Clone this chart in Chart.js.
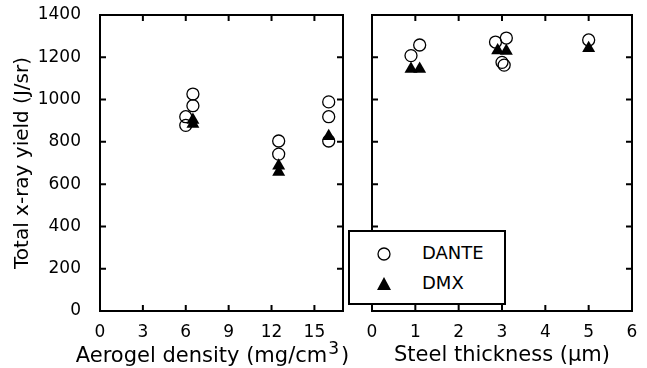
<!DOCTYPE html>
<html>
<head>
<meta charset="utf-8">
<script src="https://cdn.jsdelivr.net/npm/chart.js@4/dist/chart.umd.min.js"></script>
<style>
    body { margin: 0; background: #fff; }
    #wrap { position: relative; width: 647px; height: 368px; font-family: "DejaVu Sans", sans-serif; }
    canvas { position: absolute; top: 0; }
    #esquerra { left: 0; }
    #dreta { left: 360px; }
    #llegenda {
        position: absolute; left: 348px; top: 230px; width: 154px; height: 71px;
        border: 2px solid #000; background: #fff; font-size: 18px; color: #000;
    }
    .fila { position: absolute; left: 0; height: 24px; line-height: 24px; }
    .fila svg { position: absolute; left: 26px; top: 5px; }
    .fila span { position: absolute; left: 72px; white-space: nowrap; }
</style>
</head>
<body>
<div id="wrap">
    <canvas id="esquerra" width="360" height="368"></canvas>
    <canvas id="dreta" width="287" height="368"></canvas>
    <div id="llegenda">
        <div class="fila" style="top: 9px;">
            <svg width="16" height="16"><circle cx="8" cy="8" r="6" fill="none" stroke="#000" stroke-width="1.3"/></svg>
            <span>DANTE</span>
        </div>
        <div class="fila" style="top: 39px;">
            <svg width="16" height="16"><polygon points="8,1 15,14 1,14" fill="#000"/></svg>
            <span>DMX</span>
        </div>
    </div>
</div>
<script>
    // densitat de l'aerogel (mg/cm3)
    let densDante = [6.0, 6.0, 6.5, 6.5, 12.5, 12.5, 16.0, 16.0, 16.0];
    let yieldDanteDens = [878, 919, 971, 1026, 742, 804, 804, 919, 989];
    let densDmx = [6.5, 6.5, 12.5, 12.5, 16.0];
    let yieldDmxDens = [884, 903, 658, 687, 826];

    // gruix de l'acer (um)
    let gruixDante = [0.9, 1.1, 2.85, 3.1, 3.0, 3.05, 5.0];
    let yieldDanteGruix = [1208, 1258, 1272, 1291, 1176, 1163, 1282];
    let gruixDmx = [0.9, 1.1, 2.9, 3.1, 5.0];
    let yieldDmxGruix = [1145, 1145, 1232, 1230, 1243];

    let yTicks = [0, 200, 400, 600, 800, 1000, 1200, 1400];
    let densTicks = [0, 3, 6, 9, 12, 15];
    let gruixTicks = [0, 1, 2, 3, 4, 5, 6];

    let font = "DejaVu Sans";

    function punts(xs, ys) {
        let res = [];
        for (let i = 0; i < xs.length; i++) {
            res.push({ x: xs[i], y: ys[i] });
        }
        return res;
    }

    // marc amb marques cap endins als quatre costats
    let marc = {
        id: "marc",
        afterDraw(chart) {
            let ctx = chart.ctx;
            let a = chart.chartArea;
            let sx = chart.scales.x;
            let sy = chart.scales.y;
            let llarg = 6;
            ctx.save();
            ctx.strokeStyle = "#000";
            ctx.lineWidth = 2;
            ctx.strokeRect(a.left, a.top, a.right - a.left, a.bottom - a.top);
            ctx.beginPath();
            sx.ticks.forEach(function (t) {
                let px = sx.getPixelForValue(t.value);
                ctx.moveTo(px, a.bottom);
                ctx.lineTo(px, a.bottom - llarg);
                ctx.moveTo(px, a.top);
                ctx.lineTo(px, a.top + llarg);
            });
            sy.ticks.forEach(function (t) {
                let py = sy.getPixelForValue(t.value);
                ctx.moveTo(a.left, py);
                ctx.lineTo(a.left + llarg, py);
                ctx.moveTo(a.right, py);
                ctx.lineTo(a.right - llarg, py);
            });
            ctx.stroke();
            ctx.restore();
        }
    };

    // titol de l'eix x amb el 3 en superindex
    let titolDensitat = {
        id: "titolDensitat",
        afterDraw(chart) {
            let ctx = chart.ctx;
            let base = "Aerogel density (mg/cm";
            let y = chart.scales.x.bottom - 6;
            ctx.save();
            ctx.fillStyle = "#000";
            ctx.textBaseline = "alphabetic";
            ctx.font = "21px " + font;
            let w1 = ctx.measureText(base).width;
            ctx.font = "17px " + font;
            let w2 = ctx.measureText("3").width;
            ctx.font = "21px " + font;
            let w3 = ctx.measureText(")").width;
            let x = 213 - (w1 + w2 + w3 + 4) / 2;
            ctx.fillText(base, x, y);
            ctx.font = "17px " + font;
            ctx.fillText("3", x + w1 + 1, y - 8);
            ctx.font = "21px " + font;
            ctx.fillText(")", x + w1 + w2 + 3, y);
            ctx.restore();
        }
    };

    function datasets(xd, yd, xm, ym) {
        return [{
            label: "DANTE",
            data: punts(xd, yd),
            pointStyle: "circle",
            pointRadius: 6,
            borderColor: "#000",
            backgroundColor: "rgba(0,0,0,0)",
            borderWidth: 1.3,
            order: 2
        }, {
            label: "DMX",
            data: punts(xm, ym),
            pointStyle: "triangle",
            pointRadius: 7.5,
            borderColor: "#000",
            backgroundColor: "#000",
            borderWidth: 0,
            order: 1
        }];
    }

    function escalaX(max, ticks, titol) {
        return {
            type: "linear",
            min: 0,
            max: max,
            afterBuildTicks: function (s) {
                s.ticks = ticks.map(function (v) { return { value: v }; });
            },
            afterFit: function (s) {
                s.height = 57;
                s.paddingLeft = 0;
                s.paddingRight = 0;
            },
            grid: { display: false },
            border: { display: false },
            ticks: { color: "#000", font: { family: font, size: 17 }, padding: 3, maxRotation: 0 },
            title: { display: titol != null, text: titol || "", color: "#000", font: { family: font, size: 21 }, padding: { top: 0, bottom: 0 } }
        };
    }

    function escalaY(visible) {
        return {
            display: visible,
            min: 0,
            max: 1400,
            afterBuildTicks: function (s) {
                s.ticks = yTicks.map(function (v) { return { value: v }; });
            },
            afterFit: function (s) {
                if (visible) s.width = 89;
                s.paddingTop = 0;
                s.paddingBottom = 0;
            },
            grid: { display: false },
            border: { display: false },
            ticks: {
                color: "#000", font: { family: font, size: 17 }, padding: 11,
                callback: function (v) { return String(v); }
            },
            title: { display: true, text: "Total x-ray yield (J/sr)", color: "#000", font: { family: font, size: 20 }, padding: { top: 0, bottom: 0 } }
        };
    }

    let opcionsBase = {
        responsive: false,
        animation: false,
        plugins: { legend: { display: false }, tooltip: { enabled: false } }
    };

    new Chart(document.getElementById("esquerra"), {
        type: "scatter",
        data: { datasets: datasets(densDante, yieldDanteDens, densDmx, yieldDmxDens) },
        options: Object.assign({}, opcionsBase, {
            layout: { padding: { top: 15, right: 17, left: 11, bottom: 0 } },
            scales: {
                x: escalaX(17, densTicks, null),
                y: escalaY(true)
            }
        }),
        plugins: [marc, titolDensitat]
    });

    new Chart(document.getElementById("dreta"), {
        type: "scatter",
        data: { datasets: datasets(gruixDante, yieldDanteGruix, gruixDmx, yieldDmxGruix) },
        options: Object.assign({}, opcionsBase, {
            layout: { padding: { top: 15, right: 15, left: 12, bottom: 0 } },
            scales: {
                x: escalaX(6, gruixTicks, "Steel thickness (μm)"),
                y: escalaY(false)
            }
        }),
        plugins: [marc]
    });
</script>
</body>
</html>
